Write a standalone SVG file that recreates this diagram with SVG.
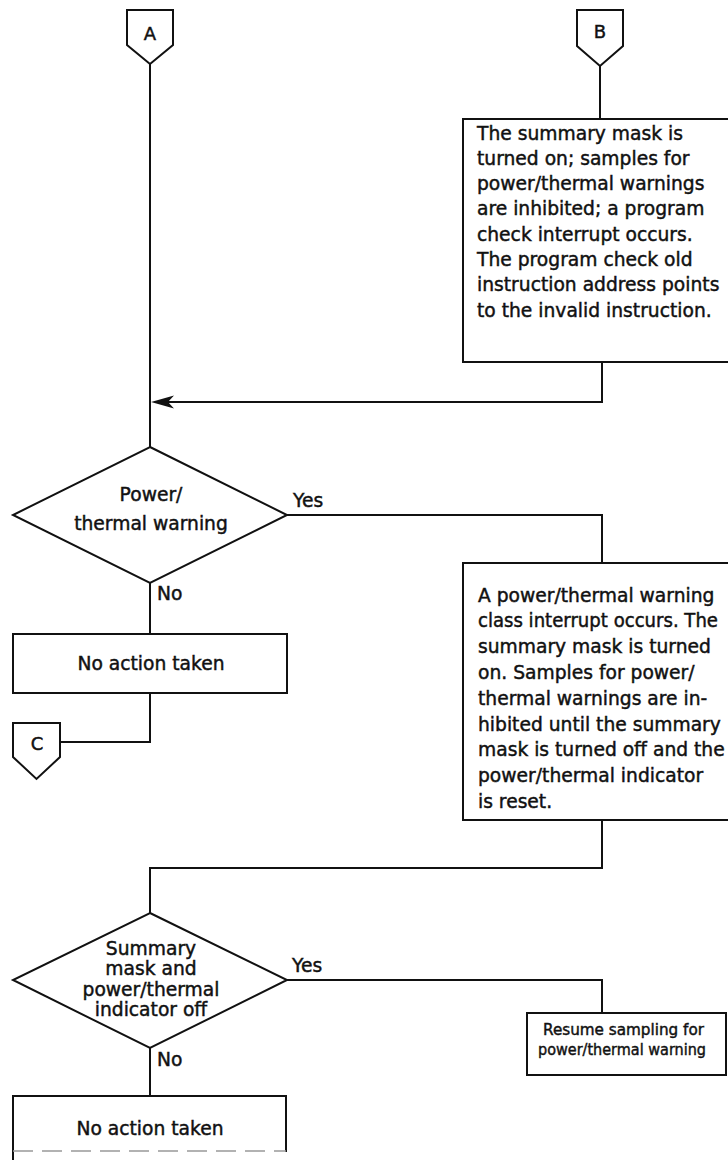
<svg xmlns="http://www.w3.org/2000/svg" width="728" height="1160" viewBox="0 0 728 1160">
  <style>
    .ln { fill: none; stroke: #111; stroke-width: 2; stroke-linejoin: miter; }
    .shape { fill: #fff; stroke: #111; stroke-width: 2; }
    text { font-family: "DejaVu Sans", "Liberation Sans", sans-serif; font-size: 18.7px; fill: #111; stroke: #111; stroke-width: 0.45px; }
    .mid { text-anchor: middle; }
    .small { font-size: 15.8px; }
    .conn { font-size: 18px; text-anchor: middle; }
  </style>
  <rect x="0" y="0" width="728" height="1160" fill="#fff"/>

  <!-- connecting lines -->
  <g id="connectors">
    <path class="ln" d="M150,64 V447"/>
    <path class="ln" d="M600,66 V119"/>
    <path class="ln" d="M602,362 V402 H168"/>
    <polygon points="151,402 174,395.5 168,402 174,408.5" fill="#111"/>
    <path class="ln" d="M287,515 H602 V563"/>
    <path class="ln" d="M150,583 V634"/>
    <path class="ln" d="M150,693 V742 H60"/>
    <path class="ln" d="M602,820 V868 H150 V913"/>
    <path class="ln" d="M287,980 H602 V1013"/>
    <path class="ln" d="M150,1048 V1096"/>
    <text x="293" y="507">Yes</text>
    <text x="157" y="600">No</text>
    <text x="292" y="972">Yes</text>
    <text x="157" y="1066">No</text>
  </g>

  <!-- off-page connectors -->
  <g id="connA">
    <path class="shape" d="M127,10 H173 V45 L150,64 L127,45 Z"/>
    <text class="conn" x="150" y="40">A</text>
  </g>
  <g id="connB">
    <path class="shape" d="M577,10 H623 V46 L600,66 L577,46 Z"/>
    <text class="conn" x="600" y="38">B</text>
  </g>
  <g id="connC">
    <path class="shape" d="M13,723 H60 V757 L36.5,779 L13,757 Z"/>
    <text class="conn" x="37" y="750">C</text>
  </g>

  <!-- program check box -->
  <g id="boxProgramCheck">
    <rect class="shape" x="463" y="119" width="290" height="243"/>
    <text x="477" y="139.5">The summary mask is</text>
    <text x="477" y="164.8">turned on; samples for</text>
    <text x="477" y="190.1">power/thermal warnings</text>
    <text x="477" y="215.4">are inhibited; a program</text>
    <text x="477" y="240.7">check interrupt occurs.</text>
    <text x="477" y="266">The program check old</text>
    <text x="477" y="291.3">instruction address points</text>
    <text x="477" y="316.6">to the invalid instruction.</text>
  </g>

  <!-- first decision -->
  <g id="decisionWarning">
    <polygon class="shape" points="150,447 287,515 150,583 13,515"/>
    <text class="mid" x="151" y="500.5">Power/</text>
    <text class="mid" x="151" y="530">thermal warning</text>
  </g>

  <g id="boxNoAction1">
    <rect class="shape" x="13" y="634" width="274" height="59"/>
    <text class="mid" x="151" y="670">No action taken</text>
  </g>

  <!-- interrupt box -->
  <g id="boxInterrupt">
    <rect class="shape" x="463" y="563" width="290" height="257"/>
    <text x="478" y="601.5">A power/thermal warning</text>
    <text x="478" y="627.3" textLength="240" lengthAdjust="spacingAndGlyphs">class interrupt occurs. The</text>
    <text x="478" y="653.1">summary mask is turned</text>
    <text x="478" y="678.9">on. Samples for power/</text>
    <text x="478" y="704.7">thermal warnings are in-</text>
    <text x="478" y="730.5">hibited until the summary</text>
    <text x="478" y="756.3">mask is turned off and the</text>
    <text x="478" y="782.1">power/thermal indicator</text>
    <text x="478" y="807.9">is reset.</text>
  </g>

  <!-- second decision -->
  <g id="decisionIndicator">
    <polygon class="shape" points="150,913 287,980 150,1048 13,980"/>
    <text class="mid" x="151" y="955">Summary</text>
    <text class="mid" x="151" y="975">mask and</text>
    <text class="mid" x="151" y="995.5">power/thermal</text>
    <text class="mid" x="151" y="1016">indicator off</text>
  </g>

  <g id="boxResume">
    <rect class="shape" x="527" y="1013" width="199" height="62"/>
    <text class="small" x="543" y="1035" textLength="161" lengthAdjust="spacingAndGlyphs">Resume sampling for</text>
    <text class="small" x="538" y="1055" textLength="168" lengthAdjust="spacingAndGlyphs">power/thermal warning</text>
  </g>

  <g id="boxNoAction2">
    <path class="ln" d="M13,1160 V1096 H286 V1152"/>
    <path d="M13,1151 H286" fill="none" stroke="#999" stroke-width="1.5" stroke-dasharray="20 9"/>
    <text class="mid" x="150" y="1135">No action taken</text>
  </g>
</svg>
